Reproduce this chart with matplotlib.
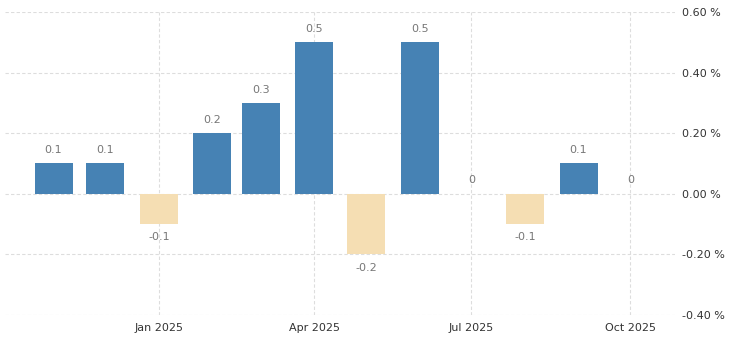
import matplotlib
matplotlib.use("Agg")
import matplotlib.pyplot as plt
import matplotlib.dates as mdates
import numpy as np
import datetime as dt

months = ["2024-11", "2024-12", "2025-01", "2025-02", "2025-03", "2025-04",
          "2025-05", "2025-06", "2025-07", "2025-08", "2025-09", "2025-10"]
values = [0.1, 0.1, -0.1, 0.2, 0.3, 0.5, -0.2, 0.5, 0.0, -0.1, 0.1, 0.0]
tick_months = ["2025-01", "2025-04", "2025-07", "2025-10"]
tick_labels = ["Jan 2025", "Apr 2025", "Jul 2025", "Oct 2025"]
y_ticks = [-0.4, -0.2, 0.0, 0.2, 0.4, 0.6]

def to_date(s):
    y, m = s.split("-")
    return dt.datetime(int(y), int(m), 1)

dates = [to_date(m) for m in months]
xs = mdates.date2num(dates)

fig = plt.figure(figsize=(7.38, 3.42), dpi=100)
ax = fig.add_axes([0.007, 0.079, 0.908, 0.886])

pos_color = "#4682B4"
neg_color = "#F5DEB3"
colors = [pos_color if v >= 0 else neg_color for v in values]
ax.bar(xs, values, width=22, color=colors, zorder=3)

for x, v in zip(xs, values):
    if v > 0:
        ax.annotate(f"{v:g}", (x, v), xytext=(0, 6), textcoords="offset points",
                    ha="center", va="bottom", fontsize=8, color="#777777")
    elif v < 0:
        ax.annotate(f"{v:g}", (x, v), xytext=(0, -6), textcoords="offset points",
                    ha="center", va="top", fontsize=8, color="#777777")
    else:
        ax.annotate("0", (x, v), xytext=(0, 6), textcoords="offset points",
                    ha="center", va="bottom", fontsize=8, color="#777777")

ax.set_ylim(-0.4, 0.6)
ax.set_yticks(y_ticks)
ax.set_yticklabels([f"{t:.2f} %" for t in y_ticks])
ax.yaxis.tick_right()
ax.set_xlim(mdates.date2num(dt.datetime(2024, 10, 4)), mdates.date2num(dt.datetime(2025, 10, 27)))
ax.set_xticks(mdates.date2num([to_date(m) for m in tick_months]))
ax.set_xticklabels(tick_labels)

ax.tick_params(axis="both", length=0, labelsize=8, colors="#333333")
ax.tick_params(axis="y", pad=5)
ax.tick_params(axis="x", pad=6)
for s in ax.spines.values():
    s.set_visible(False)
ax.grid(True, axis="both", color="#dddddd", linestyle=(0, (3, 2)), linewidth=0.8, zorder=0)

fig.savefig("out.png", dpi=100)
